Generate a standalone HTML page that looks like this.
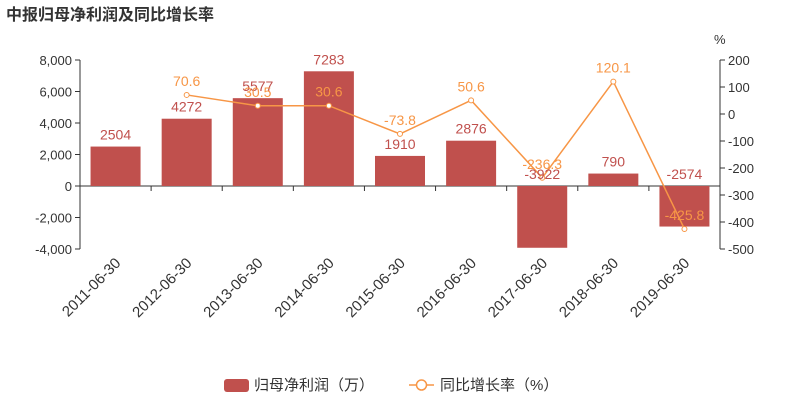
<!DOCTYPE html>
<html><head><meta charset="utf-8"><style>
body{margin:0;background:#fff;}
svg text{font-family:"Liberation Sans","Noto Sans CJK SC",sans-serif;}
</style></head><body>
<svg width="800" height="400" xmlns="http://www.w3.org/2000/svg">
<text x="6" y="20" font-size="16" font-weight="bold" fill="#333">中报归母净利润及同比增长率</text>
<g id="axes"></g><g id="bars"></g><g id="line"></g><g id="labels"></g>
<g>
<rect x="224" y="379" width="25" height="13" rx="3" fill="#c0504d"/>
<text x="254" y="390" font-size="15" fill="#333">归母净利润（万）</text>
<line x1="409" y1="385" x2="434" y2="385" stroke="#f79646" stroke-width="1.5"/>
<circle cx="421.5" cy="385" r="5" fill="#fff" stroke="#f79646" stroke-width="1.5"/>
<text x="440" y="390" font-size="15" fill="#333">同比增长率（%）</text>
</g>
</svg>
<script>
const categories=["2011-06-30","2012-06-30","2013-06-30","2014-06-30","2015-06-30","2016-06-30","2017-06-30","2018-06-30","2019-06-30"];
const profit=[2504,4272,5577,7283,1910,2876,-3922,790,-2574];
const growth=[null,70.6,30.5,30.6,-73.8,50.6,-236.3,120.1,-425.8];
const leftTicks=[8000,6000,4000,2000,0,-2000,-4000];
const rightTicks=[200,100,0,-100,-200,-300,-400,-500];
const NS="http://www.w3.org/2000/svg";
const x0=80,x1=720,yTop=60,yBot=249;
const yL=v=>yTop+(8000-v)*(yBot-yTop)/12000;
const yR=v=>yTop+(200-v)*(yBot-yTop)/700;
const bw=(x1-x0)/categories.length;
const xc=i=>x0+bw*(i+0.5);
function el(tag,attrs,parent,txt){const e=document.createElementNS(NS,tag);for(const k in attrs)e.setAttribute(k,attrs[k]);if(txt!==undefined)e.textContent=txt;document.getElementById(parent).appendChild(e);return e;}
el('line',{x1:x0,y1:yTop,x2:x0,y2:yBot,stroke:'#333'},'axes');
el('line',{x1:x1,y1:yTop,x2:x1,y2:yBot,stroke:'#333'},'axes');
el('line',{x1:x0,y1:yL(0),x2:x1,y2:yL(0),stroke:'#333'},'axes');
leftTicks.forEach(t=>{el('line',{x1:x0-5,y1:yL(t),x2:x0,y2:yL(t),stroke:'#333'},'axes');
const e=el('text',{x:x0-8,y:yL(t)+5,'font-size':13,fill:'#333','text-anchor':'end'},'axes',t.toLocaleString('en-US'));

});
rightTicks.forEach(t=>{el('line',{x1:x1,y1:yR(t),x2:x1+5,y2:yR(t),stroke:'#333'},'axes');
const e=el('text',{x:x1+8,y:yR(t)+5,'font-size':13,fill:'#333'},'axes',String(t));

});
const u=el('text',{x:714,y:44,'font-size':13,fill:'#333'},'axes','%');


categories.forEach((c,i)=>{const xt=x0+bw*(i+1);
if(i<categories.length-1)el('line',{x1:xt,y1:yL(0),x2:xt,y2:yL(0)+5,stroke:'#333'},'axes');
const t=el('text',{x:xc(i)+6,y:264,'font-size':15,fill:'#333','text-anchor':'end',transform:`rotate(-45 ${xc(i)+6} 264)`},'axes',c);

});
profit.forEach((v,i)=>{const y=Math.min(yL(v),yL(0)),h=Math.abs(yL(v)-yL(0));
const r=el('rect',{x:xc(i)-25,y:y,width:50,height:h,fill:'#c0504d'},'bars');


const ly=v>=0?yL(v)-7:yL(0)-7;
const t=el('text',{x:xc(i),y:ly,'font-size':14,fill:'#c0504d','text-anchor':'middle'},'labels',String(v));

});
let d='';growth.forEach((v,i)=>{if(v===null)return;d+=(d?'L':'M')+xc(i)+','+yR(v);});
const p=el('path',{d:d,fill:'none',stroke:'#f79646','stroke-width':1.5},'line');


growth.forEach((v,i)=>{if(v===null)return;
const c=el('circle',{cx:xc(i),cy:yR(v),r:2.5,fill:'#fff',stroke:'#f79646','stroke-width':1},'line');


const t=el('text',{x:xc(i),y:yR(v)-9,'font-size':14,fill:'#f79646','text-anchor':'middle'},'labels',String(v));

});
</script>
</body></html>
